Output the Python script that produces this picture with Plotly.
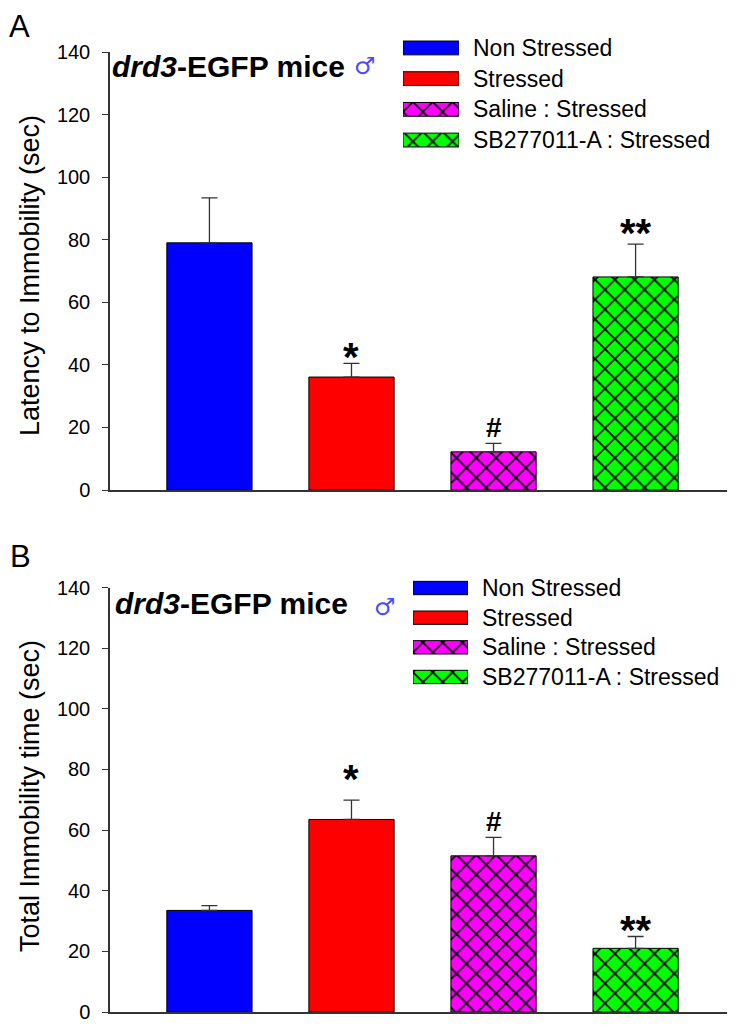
import plotly.graph_objects as go

# ---------------- data ----------------
groups = ["Non Stressed", "Stressed", "Saline : Stressed", "SB277011-A : Stressed"]
colors = ["#0000ff", "#ff0000", "#ff00ff", "#00ff00"]
patterns = ["", "", "x", "x"]

latency_mean = [79.0, 36.1, 12.2, 68.1]
latency_sem = [14.4, 4.4, 2.7, 10.5]
latency_sig = ["", "*", "#", "**"]

total_mean = [33.5, 63.5, 51.5, 21.0]
total_sem = [1.6, 6.4, 6.1, 3.9]
total_sig = ["", "*", "#", "**"]

yticks = [0, 20, 40, 60, 80, 100, 120, 140]

# ---------------- helpers (layout in window pixels) ----------------
OFF = 8                      # default page body margin
W, H = 735 - 2 * OFF, 1033 - 2 * OFF
FONT = "Arial, Liberation Sans, sans-serif"


def px(x):
    return (x - OFF) / W


def py(y):
    return (H - (y - OFF)) / H


xpos = list(range(len(groups)))
# x axis: category 0 centred at window x=209.4, 142.05 px per category, axis starts at x=110
x_left = -0.7
x_right = x_left + (OFF + W - 110) / 142.05

fig = go.Figure()


def marker_for(i):
    return dict(color=colors[i], line=dict(color="black", width=1),
                pattern=dict(shape=patterns[i], fgcolor="black", bgcolor=colors[i],
                             fgopacity=1, size=14, solidity=0.22, fillmode="replace"))


def add_panel(means, sems, xa, ya):
    for i in xpos:
        fig.add_trace(go.Bar(
            x=[i], y=[means[i]], width=0.6, name=groups[i],
            xaxis=xa, yaxis=ya, marker=marker_for(i),
            error_y=dict(type="data", symmetric=False, array=[sems[i]],
                         arrayminus=[0], color="#333333", thickness=1.3, width=8),
            showlegend=False, hoverinfo="skip",
        ))


def add_legend(xa, ya):
    for i, g in enumerate(groups):
        fig.add_trace(go.Bar(
            x=[1], y=[i], orientation="h", width=0.45, name=g,
            xaxis=xa, yaxis=ya, marker=marker_for(i),
            showlegend=False, hoverinfo="skip",
        ))
        fig.add_annotation(xref=f"{xa} domain", yref=ya, x=1, y=i,
                           xanchor="left", yanchor="middle", xshift=12,
                           text=g, showarrow=False,
                           font=dict(family=FONT, size=23, color="black"))


add_panel(latency_mean, latency_sem, "x", "y")
add_panel(total_mean, total_sem, "x2", "y2")
add_legend("x3", "y3")
add_legend("x4", "y4")

# significance marks
sig_fonts = {"*": 40, "**": 40, "#": 28}
sig_shift_a = [0, -4, 12, 1]
sig_shift_b = [0, 11, 12, -3]
for means, sems, sigs, shifts, xa, ya in [
    (latency_mean, latency_sem, latency_sig, sig_shift_a, "x", "y"),
    (total_mean, total_sem, total_sig, sig_shift_b, "x2", "y2"),
]:
    for i, s in enumerate(sigs):
        if not s:
            continue
        fig.add_annotation(xref=xa, yref=ya, x=i, y=means[i] + sems[i],
                           yanchor="bottom", yshift=shifts[i] - 14,
                           text=f"<b>{s}</b>", showarrow=False,
                           font=dict(family=FONT, size=sig_fonts[s], color="black"))

ax_common = dict(showgrid=False, zeroline=False, automargin=False)
xa_common = dict(range=[x_left, x_right], showline=True, linecolor="#333333", linewidth=1.5,
                 showticklabels=False, ticks="", **ax_common)
ya_common = dict(range=[0, 140], tickvals=yticks, ticks="outside", ticklen=6,
                 tickwidth=1.3, tickcolor="#333333", showline=True,
                 linecolor="#333333", linewidth=1.5,
                 tickfont=dict(family=FONT, size=20, color="black"),
                 ticklabelstandoff=8, ticklabeloverflow="allow", **ax_common)

leg_x = dict(range=[0, 1], visible=False, **ax_common)
leg_y = dict(range=[3.5, -0.5], visible=False, **ax_common)

fig.update_layout(
    width=W, height=H,
    margin=dict(l=0, r=0, t=0, b=0),
    paper_bgcolor="white", plot_bgcolor="rgba(0,0,0,0)",
    barmode="overlay",
    xaxis=dict(domain=[px(110), 1], anchor="y", **xa_common),
    yaxis=dict(domain=[py(490), py(52)], anchor="x", **ya_common),
    xaxis2=dict(domain=[px(110), 1], anchor="y2", **xa_common),
    yaxis2=dict(domain=[py(1012), py(587.5)], anchor="x2", **ya_common),
    xaxis3=dict(domain=[px(403), px(459)], anchor="y3", **leg_x),
    yaxis3=dict(domain=[py(155.4), py(32.6)], anchor="x3", **leg_y),
    xaxis4=dict(domain=[px(413), px(468)], anchor="y4", **leg_x),
    yaxis4=dict(domain=[py(691.8), py(573.2)], anchor="x4", **leg_y),
    font=dict(family=FONT, color="black"),
)

# panel letters
fig.add_annotation(xref="paper", yref="paper", x=0, y=1, xanchor="left", yanchor="top",
                   text="A", showarrow=False, borderpad=0,
                   font=dict(family=FONT, size=31, color="black"))
fig.add_annotation(xref="paper", yref="paper", x=0, y=py(556), xanchor="left",
                   yanchor="middle", text="B", showarrow=False,
                   font=dict(family=FONT, size=31, color="black"))

# panel titles + male symbol
for yc, xs, xm, ym in [(67, 110, 352, 66), (603, 113, 372, 607)]:
    fig.add_annotation(xref="paper", yref="paper", x=px(xs), y=py(yc),
                       xanchor="left", yanchor="middle",
                       text="<b><i>drd3</i>-EGFP mice</b>",
                       showarrow=False, font=dict(family=FONT, size=30, color="black"))
    fig.add_annotation(xref="paper", yref="paper", x=px(xm), y=py(ym),
                       xanchor="left", yanchor="middle", text="♂", showarrow=False,
                       font=dict(family="DejaVu Sans", size=24, color="#4a4aff"))

# y-axis titles
for title, yc in [("Latency to Immobility (sec)", 276), ("Total Immobility time (sec)", 796)]:
    fig.add_annotation(xref="paper", yref="paper", x=px(30), y=py(yc),
                       xanchor="center", yanchor="middle", textangle=-90,
                       text=title, showarrow=False,
                       font=dict(family=FONT, size=27, color="black"))

fig.write_html("out.html")
